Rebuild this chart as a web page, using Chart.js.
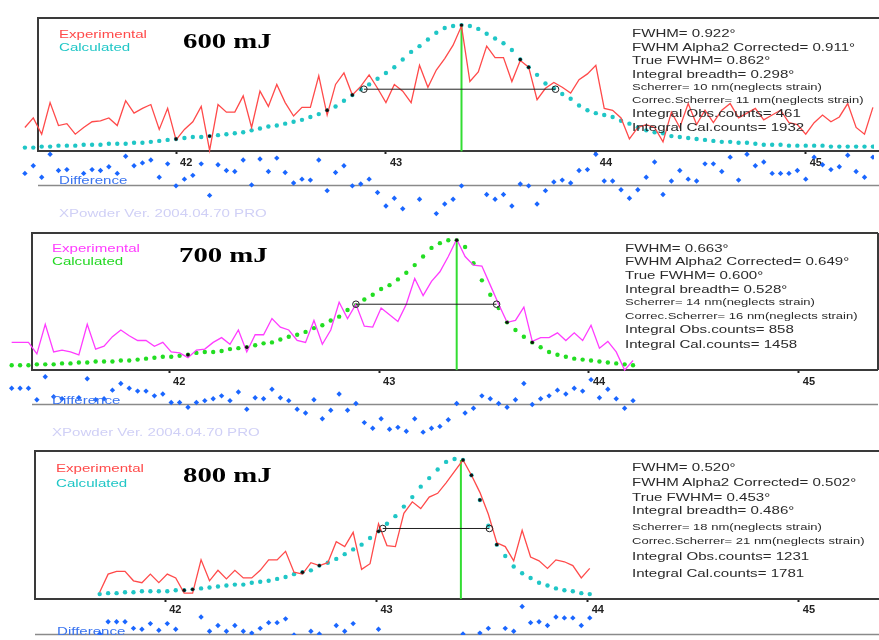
<!DOCTYPE html>
<html><head><meta charset="utf-8">
<script src="https://cdn.jsdelivr.net/npm/chart.js@4"></script>
<style>
html,body{margin:0;padding:0;background:#fff;}
#wrap{position:relative;width:879px;height:640px;overflow:hidden;background:#fff;}
canvas{position:absolute;left:0;}
.t{position:absolute;white-space:pre;font-family:"Liberation Sans",Arial,sans-serif;font-size:11px;line-height:11px;transform:scaleX(1.37);transform-origin:0 0;color:#2a2a2a;}
.s{font-size:9.5px;line-height:10px;}
.ttl{font-family:"Liberation Serif","Times New Roman",serif;font-weight:bold;font-size:21px;line-height:21px;color:#000;}
.dif{color:#3a74f0;}
.xp{color:#d0d0f6;}
</style></head>
<body><div id="wrap">
<canvas id="c600" width="879" height="232" style="top:0px"></canvas>
<canvas id="c700" width="879" height="220" style="top:220px"></canvas>
<canvas id="c800" width="879" height="204" style="top:436px"></canvas>

<div class="t" style="left:59px;top:29px;color:#ff4a4a">Experimental</div>
<div class="t" style="left:59px;top:42px;color:#1fc6c6">Calculated</div>
<div class="t ttl" style="left:183px;top:31px">600 mJ</div>
<div class="t" style="left:632px;top:28px">FWHM= 0.922°</div>
<div class="t" style="left:632px;top:42px">FWHM Alpha2 Corrected= 0.911°</div>
<div class="t" style="left:632px;top:55px">True FWHM= 0.862°</div>
<div class="t" style="left:632px;top:69px">Integral breadth= 0.298°</div>
<div class="t s" style="left:632px;top:82px">Scherrer= 10 nm(neglects strain)</div>
<div class="t s" style="left:632px;top:95px">Correc.Scherrer= 11 nm(neglects strain)</div>
<div class="t" style="left:632px;top:108px">Integral Obs.counts= 461</div>
<div class="t" style="left:632px;top:122px">Integral Cal.counts= 1932</div>
<div class="t dif" style="left:59px;top:175px">Difference</div>
<div class="t xp" style="left:59px;top:208px">XPowder Ver. 2004.04.70 PRO</div>

<div class="t" style="left:52px;top:243px;color:#ff3cff">Experimental</div>
<div class="t" style="left:52px;top:256px;color:#22d822">Calculated</div>
<div class="t ttl" style="left:179px;top:245px">700 mJ</div>
<div class="t" style="left:625px;top:243px">FWHM= 0.663°</div>
<div class="t" style="left:625px;top:256px">FWHM Alpha2 Corrected= 0.649°</div>
<div class="t" style="left:625px;top:270px">True FWHM= 0.600°</div>
<div class="t" style="left:625px;top:284px">Integral breadth= 0.528°</div>
<div class="t s" style="left:625px;top:297px">Scherrer= 14 nm(neglects strain)</div>
<div class="t s" style="left:625px;top:311px">Correc.Scherrer= 16 nm(neglects strain)</div>
<div class="t" style="left:625px;top:324px">Integral Obs.counts= 858</div>
<div class="t" style="left:625px;top:339px">Integral Cal.counts= 1458</div>
<div class="t dif" style="left:52px;top:395px">Difference</div>
<div class="t xp" style="left:52px;top:427px">XPowder Ver. 2004.04.70 PRO</div>

<div class="t" style="left:56px;top:463px;color:#ff4a4a">Experimental</div>
<div class="t" style="left:56px;top:478px;color:#1fc6c6">Calculated</div>
<div class="t ttl" style="left:183px;top:465px">800 mJ</div>
<div class="t" style="left:632px;top:462px">FWHM= 0.520°</div>
<div class="t" style="left:632px;top:477px">FWHM Alpha2 Corrected= 0.502°</div>
<div class="t" style="left:632px;top:492px">True FWHM= 0.453°</div>
<div class="t" style="left:632px;top:505px">Integral breadth= 0.486°</div>
<div class="t s" style="left:632px;top:522px">Scherrer= 18 nm(neglects strain)</div>
<div class="t s" style="left:632px;top:536px">Correc.Scherrer= 21 nm(neglects strain)</div>
<div class="t" style="left:632px;top:551px">Integral Obs.counts= 1231</div>
<div class="t" style="left:632px;top:568px">Integral Cal.counts= 1781</div>
<div class="t dif" style="left:57px;top:626px">Difference</div>
</div>
<script>
// ---------- DATA ----------
const tickValues = [42, 43, 44, 45];

// 600 mJ
const angles600 = [41.28,41.32,41.36,41.40,41.44,41.48,41.52,41.56,41.60,41.64,
41.68,41.72,41.76,41.80,41.84,41.88,41.92,41.96,42.00,42.04,
42.08,42.12,42.16,42.20,42.24,42.28,42.32,42.36,42.40,42.44,
42.48,42.52,42.56,42.60,42.64,42.68,42.72,42.76,42.80,42.84,
42.88,42.92,42.96,43.00,43.04,43.08,43.12,43.16,43.20,43.24,
43.28,43.32,43.36,43.40,43.44,43.48,43.52,43.56,43.60,43.64,
43.68,43.72,43.76,43.80,43.84,43.88,43.92,43.96,44.00,44.04,
44.08,44.12,44.16,44.20,44.24,44.28,44.32,44.36,44.40,44.44,
44.48,44.52,44.56,44.60,44.64,44.68,44.72,44.76,44.80,44.84,
44.88,44.92,44.96,45.00,45.04,45.08,45.12,45.16,45.20,45.24,
45.28,45.32];
const exp600 = [25,35,18,51,27,29,18,25,31,32,
35,27,53,40,45,49,23,45,12,23,
31,47,1,49,41,41,58,25,63,47,
70,51,37,46,46,79,38,70,82,59,
68,80,66,51,70,63,51,90,67,85,
97,111,131,73,83,110,98,98,73,95,
88,54,66,72,67,61,75,81,90,45,
43,35,13,25,28,25,10,41,25,50,
28,43,30,43,50,35,40,45,33,38,
43,30,28,18,30,38,31,36,50,25,
18,46];
const calc600 = [4,4,5,5,6,6,6,7,7,7,
8,8,8,9,9,10,11,12,13,14,
15,15,16,17,18,19,20,22,24,26,
27,29,31,33,36,39,43,47,53,59,
65,70,76,82,88,96,104,110,117,124,
129,131,132,131,128,123,118,113,106,96,
88,80,71,66,60,55,48,43,40,38,
36,32,29,25,22,20,19,16,15,14,
13,12,11,10,10,9,9,8,7,7,
7,6,6,6,6,6,5,5,5,5,
5,5];
const diff600 = [12,20,8,32,15,16,null,12,16,15,
19,12,30,20,23,26,8,22,-1,6,
10,22,-11,21,15,14,26,0,27,14,
28,13,2,6,5,26,-6,13,20,-1,
1,6,-8,-22,-14,-25,null,-15,null,-30,
-20,-15,-1,null,null,-10,-15,-10,-22,1,
-1,-20,-6,3,5,2,15,16,32,4,
4,-5,-14,-5,8,24,-10,4,15,6,
4,22,22,14,29,5,32,20,24,12,
12,12,15,6,29,21,16,19,31,14,
8,29];
const marks600 = [18, 22, 36, 39, 52, 59, 60];
const halfMax600 = [42.895, 43.808];
const halfLevel600 = 65;
const peak600 = [43.36, 131];

// 700 mJ
const angles700 = [41.25,41.29,41.33,41.37,41.41,41.45,41.49,41.53,41.57,41.61,
41.65,41.69,41.73,41.77,41.81,41.85,41.89,41.93,41.97,42.01,
42.05,42.09,42.13,42.17,42.21,42.25,42.29,42.33,42.37,42.41,
42.45,42.49,42.53,42.57,42.61,42.65,42.69,42.73,42.77,42.81,
42.85,42.89,42.93,42.97,43.01,43.05,43.09,43.13,43.17,43.21,
43.25,43.29,43.33,43.37,43.41,43.45,43.49,43.53,43.57,43.61,
43.65,43.69,43.73,43.77,43.81,43.85,43.89,43.93,43.97,44.01,
44.05,44.09,44.13,44.17,44.21];
const exp700 = [29,29,29,17,48,19,21,19,16,48,
22,25,35,42,36,31,31,25,29,19,
18,13,21,22,29,34,27,42,19,37,
37,54,45,42,31,29,52,27,42,71,
54,69,46,45,65,58,51,69,96,78,
93,103,119,137,119,110,109,89,69,50,
52,66,30,34,34,39,31,39,31,47,
23,30,19,0,10];
const calc700 = [5,5,5,6,6,6,7,7,8,8,
9,9,9,10,10,11,12,13,14,14,
15,16,18,19,19,20,22,23,24,26,
28,29,32,35,37,40,44,47,52,56,
63,68,74,79,85,89,95,102,110,119,
128,133,136,136,129,112,94,79,65,50,
42,35,29,24,19,16,14,12,11,10,
9,8,7,6,5];
const diff700 = [16,16,16,4,28,7,5,null,6,26,
4,5,14,21,16,13,13,8,10,1,
1,-4,1,3,5,8,3,12,-6,6,
5,15,6,3,-6,-10,4,-16,-7,10,
-7,0,-20,-26,-16,-27,-25,-29,-16,-30,
-26,-24,-17,0,-10,-5,8,5,0,-4,
4,21,-1,5,8,14,10,16,13,25,
6,15,5,-5,3];
const marks700 = [21, 28, 53, 59, 62];
const halfMax700 = [42.89, 43.56];
const halfLevel700 = 69;
const peak700 = [43.37, 137];

// 800 mJ
const angles800 = [41.69,41.73,41.77,41.81,41.85,41.89,41.93,41.97,42.01,42.05,
42.09,42.13,42.17,42.21,42.25,42.29,42.33,42.37,42.41,42.45,
42.49,42.53,42.57,42.61,42.65,42.69,42.73,42.77,42.81,42.85,
42.89,42.93,42.97,43.01,43.05,43.09,43.13,43.17,43.21,43.25,
43.29,43.33,43.37,43.41,43.45,43.49,43.53,43.57,43.61,43.65,
43.69,43.73,43.77,43.81,43.85,43.89,43.93,43.97,44.01];
const exp800 = [7,26,29,29,19,17,26,17,26,22,
6,6,41,19,30,21,30,22,22,30,
41,41,50,28,26,38,35,38,60,55,
70,31,37,79,56,55,90,102,95,107,
111,122,134,146,130,112,89,59,55,40,
72,44,40,32,41,39,35,22,32];
const calc800 = [5,6,6,7,7,8,8,8,8,9,
9,10,11,12,13,14,15,15,17,18,
19,21,23,26,28,30,35,38,42,47,
52,57,64,71,79,87,97,107,118,127,
136,144,147,146,130,104,77,57,45,34,
27,22,17,14,11,9,8,6,5];
const diff800 = [0,13,13,13,6,5,11,4,11,5,
null,null,18,3,9,3,9,3,1,6,
12,12,16,-1,null,3,0,null,9,3,
11,null,null,5,null,null,null,null,null,null,
null,null,null,0,null,1,6,null,6,3,
29,12,13,9,18,17,17,9,17];
const marks800 = [10, 11, 24, 26, 33, 43, 44, 45, 47];
const halfMax800 = [43.03, 43.535];
const halfLevel800 = 74;
const peak800 = [43.40, 146];

// ---------- LAYOUT / STYLE ----------
const layout600 = {xMin:41.1852, xMax:45.3252, yMin:-79, yMax:153, ydMin:-44, ydMax:188, frameLeft:38, frameRight:880, frameTop:139, closed:false};
const layout700 = {xMin:41.2182, xMax:45.3580, yMin:-68, yMax:152, ydMin:-33, ydMax:187, frameLeft:32, frameRight:878, frameTop:144, closed:true};
const layout800 = {xMin:41.2418, xMax:45.3557, yMin:-38, yMax:166, ydMin:-1, ydMax:203, frameLeft:35, frameRight:880, frameTop:155, closed:false};
const style600 = {exp:'#ff4a4a', calc:'#1fc6c6'};
const style700 = {exp:'#ff3cff', calc:'#22dd22'};
const style800 = {exp:'#ff4a4a', calc:'#1fc6c6'};

const framePlugin = {
  id: 'frame',
  beforeDatasetsDraw(chart, args, o) {
    const ctx = chart.ctx, y = chart.scales.y, yd = chart.scales.yd;
    const top = Math.round(y.getPixelForValue(o.frameTop));
    const bottom = Math.round(y.getPixelForValue(0));
    const base = Math.round(yd.getPixelForValue(0)) + 0.5;
    ctx.save();
    ctx.strokeStyle = '#8a8a8a'; ctx.lineWidth = 1.5;
    ctx.beginPath(); ctx.moveTo(o.frameLeft, base); ctx.lineTo(o.frameRight, base); ctx.stroke();
    ctx.strokeStyle = '#3a3a3a'; ctx.lineWidth = 2;
    ctx.beginPath();
    ctx.moveTo(o.frameRight, top); ctx.lineTo(o.frameLeft, top);
    ctx.lineTo(o.frameLeft, bottom); ctx.lineTo(o.frameRight, bottom);
    if (o.closed) { ctx.moveTo(o.frameRight, top); ctx.lineTo(o.frameRight, bottom); }
    ctx.stroke();
    ctx.restore();
  }
};

function pts(xs, ys) {
  const out = [];
  xs.forEach((x, i) => { if (ys[i] !== null && ys[i] !== undefined) out.push({x: x, y: ys[i]}); });
  return out;
}

function build(id, angles, exp, calc, diff, marks, half, halfLevel, peak, L, S) {
  new Chart(document.getElementById(id), {
    type: 'line',
    data: { datasets: [
      { label: 'marks', data: marks.map(i => ({x: angles[i], y: calc[i]})), showLine: false,
        pointRadius: 1.7, pointBackgroundColor: '#111', pointBorderWidth: 0 },
      { label: 'half', data: [{x: half[0], y: halfLevel}, {x: half[1], y: halfLevel}],
        borderColor: '#222', borderWidth: 1, pointRadius: 3.3, pointBorderColor: '#222',
        pointBackgroundColor: 'rgba(255,255,255,0)', pointBorderWidth: 1 },
      { label: 'Experimental', data: pts(angles, exp), borderColor: S.exp, borderWidth: 1.3,
        pointRadius: 0, tension: 0 },
      { label: 'peak', data: [{x: peak[0], y: 0}, {x: peak[0], y: peak[1]}],
        borderColor: '#33dd33', borderWidth: 2, pointRadius: 0 },
      { label: 'Calculated', data: pts(angles, calc), showLine: false,
        pointRadius: 2.2, pointBackgroundColor: S.calc, pointBorderWidth: 0 },
      { label: 'Difference', yAxisID: 'yd', data: pts(angles, diff), showLine: false,
        pointStyle: 'rectRot', pointRadius: 2.7, pointBackgroundColor: '#1a66ff', pointBorderWidth: 0 }
    ]},
    options: {
      responsive: false, animation: false, events: [],
      layout: { padding: 0 },
      plugins: { legend: { display: false }, tooltip: { enabled: false }, frame: L },
      scales: {
        x: { type: 'linear', min: L.xMin, max: L.xMax, position: { y: 0 },
          afterFit: (s) => { s.height = 0; },
          afterBuildTicks: (s) => { s.ticks = tickValues.map(v => ({ value: v })); },
          border: { display: false },
          grid: { drawOnChartArea: false, drawTicks: true, tickLength: 3, tickColor: '#222', tickWidth: 2 },
          ticks: { align: 'start', labelOffset: 4, padding: 2, color: '#222', autoSkip: false, maxRotation: 0,
            font: { family: '"Liberation Sans", Arial, sans-serif', size: 11, weight: 'bold' } } },
        y: { type: 'linear', display: false, min: L.yMin, max: L.yMax },
        yd: { type: 'linear', display: false, min: L.ydMin, max: L.ydMax }
      }
    },
    plugins: [framePlugin]
  });
}

build('c600', angles600, exp600, calc600, diff600, marks600, halfMax600, halfLevel600, peak600, layout600, style600);
build('c700', angles700, exp700, calc700, diff700, marks700, halfMax700, halfLevel700, peak700, layout700, style700);
build('c800', angles800, exp800, calc800, diff800, marks800, halfMax800, halfLevel800, peak800, layout800, style800);
</script>
</body></html>
